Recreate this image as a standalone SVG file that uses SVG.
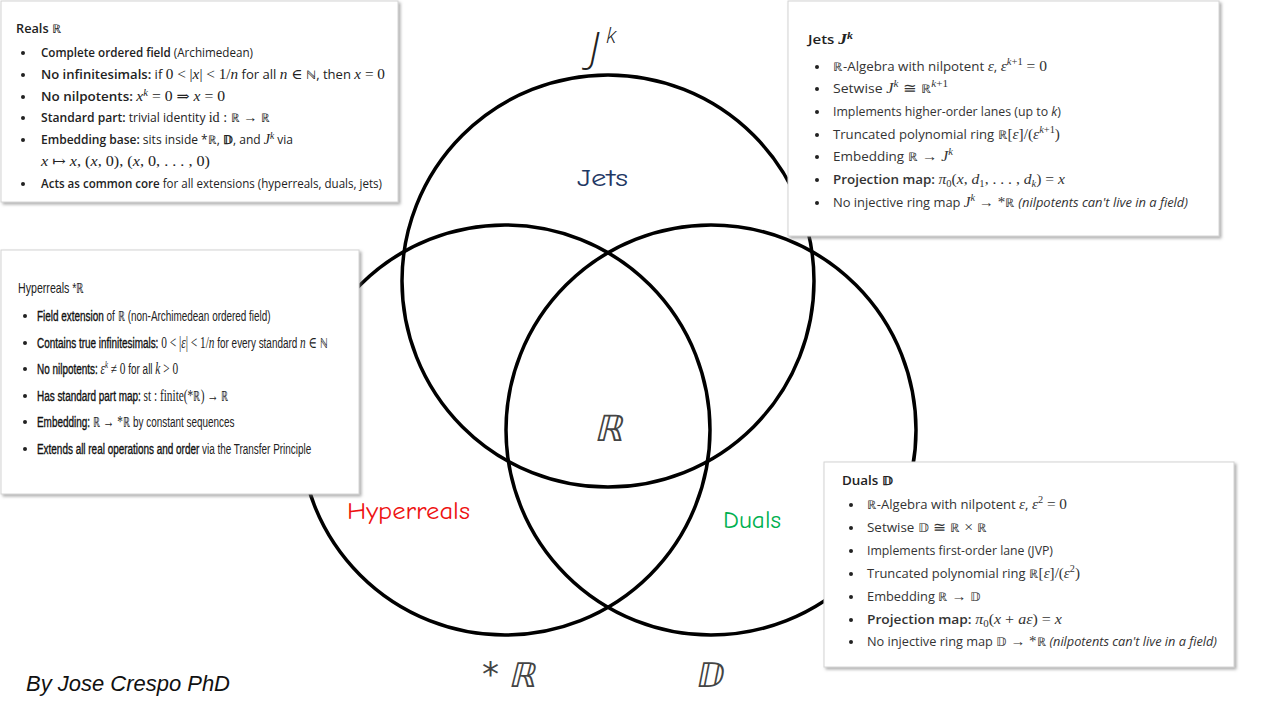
<svg xmlns="http://www.w3.org/2000/svg" width="1280" height="720" viewBox="0 0 1280 720">
<defs>
<filter id="sh" x="-5%" y="-5%" width="115%" height="115%">
<feDropShadow dx="2" dy="2" stdDeviation="1.8" flood-color="#777" flood-opacity="0.6"/>
</filter>
<style>
.set{fill:none;stroke:#000;stroke-width:3.5}
.box{fill:#fff;stroke:#d4d4d4;stroke-width:1;filter:url(#sh)}
.tx{font-family:"Open Sans","Noto Sans",sans-serif;font-size:12px;fill:#333}
.dk{fill:#222}
.hx{font-family:"Liberation Sans",Arial,sans-serif;font-size:14px;fill:#222}
.b{font-weight:600}
.hb{fill:#111;stroke:#111;stroke-width:0.35}
.m{font-family:"Liberation Serif","DejaVu Serif",serif;font-size:14px}
.hm{font-size:16px}
.i{font-style:italic}
.ds{font-family:"DejaVu Sans",sans-serif;font-weight:300}
.sp{font-size:9.5px}
.bul{fill:#222}
.big{font-family:"DejaVu Sans",sans-serif;fill:#444}
.lab{font-family:"Comic Sans MS","Comic Neue","DejaVu Sans",sans-serif;font-size:24px}
</style>
</defs>
<rect width="1280" height="720" fill="#fff"/>

<g id="jets-set"><circle class="set" cx="608" cy="281" r="206"/></g>
<g id="hyperreals-set"><circle class="set" cx="505" cy="430" r="205"/></g>
<g id="duals-set"><circle class="set" cx="711" cy="430" r="205"/></g>

<g id="set-labels">
<text x="589" y="62" font-family="Open Sans,sans-serif" font-style="italic" font-weight="300" font-size="42" fill="#222">J</text>
<text x="606" y="43" font-family="Open Sans,sans-serif" font-style="italic" font-weight="300" font-size="22" fill="#222">k</text>
<text class="lab" x="577" y="186" fill="#1F3864" textLength="51" lengthAdjust="spacingAndGlyphs">Jets</text>
<text class="lab" x="347" y="519" fill="#EE1111" textLength="123" lengthAdjust="spacingAndGlyphs">Hyperreals</text>
<text class="lab" x="723" y="528" fill="#00B050" textLength="58" lengthAdjust="spacingAndGlyphs">Duals</text>
<text class="big" transform="translate(608,441) skewX(-14)" font-size="36" text-anchor="middle">ℝ</text>
<text class="big" x="482" y="686" font-size="34">*</text>
<text class="big" transform="translate(508,687) skewX(-14)" font-size="34">ℝ</text>
<text class="big" x="697" y="687" font-size="34">ⅅ</text>
</g>

<g id="reals-box">
<rect class="box" x="1" y="1" width="397" height="201"/>
<text class="tx b dk" x="16" y="33" font-size="13" textLength="45" lengthAdjust="spacingAndGlyphs">Reals ℝ</text>
<g class="bul"><circle cx="23" cy="53" r="2"/><circle cx="23" cy="75" r="2"/><circle cx="23" cy="97" r="2"/><circle cx="23" cy="118" r="2"/><circle cx="23" cy="140" r="2"/><circle cx="23" cy="184" r="2"/></g>
<text class="tx dk" x="41" y="57" textLength="212" lengthAdjust="spacingAndGlyphs"><tspan class="b">Complete ordered field</tspan> (Archimedean)</text>
<text class="tx dk" x="41" y="79" textLength="344" lengthAdjust="spacingAndGlyphs"><tspan class="b">No infinitesimals:</tspan> if <tspan class="m">0 &lt; |</tspan><tspan class="m i">x</tspan><tspan class="m">| &lt; 1/</tspan><tspan class="m i">n</tspan> for all <tspan class="m i">n</tspan><tspan class="m"> ∈ </tspan><tspan class="ds">ℕ</tspan>, then <tspan class="m i">x</tspan><tspan class="m"> = 0</tspan></text>
<text class="tx dk" x="41" y="101" textLength="184" lengthAdjust="spacingAndGlyphs"><tspan class="b">No nilpotents:</tspan> <tspan class="m i">x</tspan><tspan class="m i sp" dy="-5">k</tspan><tspan class="m" dy="5"> = 0 ⇒ </tspan><tspan class="m i">x</tspan><tspan class="m"> = 0</tspan></text>
<text class="tx dk" x="41" y="122" textLength="229" lengthAdjust="spacingAndGlyphs"><tspan class="b">Standard part:</tspan> trivial identity <tspan class="m">id : </tspan><tspan class="ds">ℝ</tspan><tspan class="m"> → </tspan><tspan class="ds">ℝ</tspan></text>
<text class="tx dk" x="41" y="144" textLength="252" lengthAdjust="spacingAndGlyphs"><tspan class="b">Embedding base:</tspan> sits inside *<tspan class="ds">ℝ</tspan>, <tspan class="b">𝔻</tspan>, and <tspan class="m i">J</tspan><tspan class="m i sp" dy="-5">k</tspan><tspan dy="5"> via</tspan></text>
<text class="m dk" x="41" y="166" textLength="169" lengthAdjust="spacingAndGlyphs"><tspan class="i">x</tspan> ↦ <tspan class="i">x</tspan>,  (<tspan class="i">x</tspan>, 0),  (<tspan class="i">x</tspan>, 0, . . . , 0)</text>
<text class="tx dk" x="41" y="188" textLength="341" lengthAdjust="spacingAndGlyphs"><tspan class="b">Acts as common core</tspan> for all extensions (hyperreals, duals, jets)</text>
</g>

<g id="jets-box">
<rect class="box" x="788" y="1" width="431" height="235"/>
<text class="tx b dk" x="808" y="44" font-size="13" textLength="45" lengthAdjust="spacingAndGlyphs">Jets <tspan class="m i">J</tspan><tspan class="m i sp" dy="-5">k</tspan></text>
<g class="bul"><circle cx="817" cy="67" r="2"/><circle cx="817" cy="89" r="2"/><circle cx="817" cy="112" r="2"/><circle cx="817" cy="135" r="2"/><circle cx="817" cy="157" r="2"/><circle cx="817" cy="180" r="2"/><circle cx="817" cy="203" r="2"/></g>
<text class="tx" x="833" y="71" textLength="214" lengthAdjust="spacingAndGlyphs"><tspan class="ds">ℝ</tspan>-Algebra with nilpotent <tspan class="m i">ε</tspan>, <tspan class="m i">ε</tspan><tspan class="m i sp" dy="-6">k</tspan><tspan class="m sp">+1</tspan><tspan class="m" dy="6"> = 0</tspan></text>
<text class="tx" x="833" y="93" textLength="115" lengthAdjust="spacingAndGlyphs">Setwise <tspan class="m i">J</tspan><tspan class="m i sp" dy="-6">k</tspan><tspan class="m" dy="6"> ≅ </tspan><tspan class="ds">ℝ</tspan><tspan class="m i sp" dy="-6">k</tspan><tspan class="m sp">+1</tspan></text>
<text class="tx" x="833" y="116" textLength="228" lengthAdjust="spacingAndGlyphs">Implements higher-order lanes (up to <tspan class="i">k</tspan>)</text>
<text class="tx" x="833" y="139" textLength="227" lengthAdjust="spacingAndGlyphs">Truncated polynomial ring <tspan class="ds">ℝ</tspan><tspan class="m">[</tspan><tspan class="m i">ε</tspan><tspan class="m">]/(</tspan><tspan class="m i">ε</tspan><tspan class="m i sp" dy="-6">k</tspan><tspan class="m sp">+1</tspan><tspan class="m" dy="6">)</tspan></text>
<text class="tx" x="833" y="161" textLength="120" lengthAdjust="spacingAndGlyphs">Embedding <tspan class="ds">ℝ</tspan><tspan class="m"> → </tspan><tspan class="m i">J</tspan><tspan class="m i sp" dy="-6">k</tspan></text>
<text class="tx" x="833" y="184" textLength="232" lengthAdjust="spacingAndGlyphs"><tspan class="b">Projection map:</tspan> <tspan class="m i">π</tspan><tspan class="m sp" dy="3">0</tspan><tspan class="m" dy="-3">(</tspan><tspan class="m i">x</tspan><tspan class="m">, </tspan><tspan class="m i">d</tspan><tspan class="m sp" dy="3">1</tspan><tspan class="m" dy="-3">, . . . , </tspan><tspan class="m i">d</tspan><tspan class="m i sp" dy="3">k</tspan><tspan class="m" dy="-3">) = </tspan><tspan class="m i">x</tspan></text>
<text class="tx" x="833" y="207" textLength="355" lengthAdjust="spacingAndGlyphs">No injective ring map <tspan class="m i">J</tspan><tspan class="m i sp" dy="-6">k</tspan><tspan class="m" dy="6"> → *</tspan><tspan class="ds">ℝ</tspan> <tspan class="i">(nilpotents can't live in a field)</tspan></text>
</g>

<g id="hyperreals-box">
<rect class="box" x="1" y="250" width="358" height="244"/>
<g class="bul"><circle cx="25" cy="316" r="2"/><circle cx="25" cy="343" r="2"/><circle cx="25" cy="369" r="2"/><circle cx="25" cy="396" r="2"/><circle cx="25" cy="422" r="2"/><circle cx="25" cy="449" r="2"/></g>
<g transform="translate(18,0) scale(0.76,1)">
<text class="hx" x="0" y="293" font-size="15">Hyperreals *<tspan class="ds">ℝ</tspan></text>
</g>
<g transform="translate(37,0) scale(0.71,1)">
<text class="hx" x="0" y="321"><tspan class="hb">Field extension</tspan> of <tspan class="ds">ℝ</tspan> (non-Archimedean ordered field)</text>
<text class="hx" x="0" y="348"><tspan class="hb">Contains true infinitesimals:</tspan> <tspan class="m hm">0 &lt; |</tspan><tspan class="m hm i">ε</tspan><tspan class="m hm">| &lt; 1/</tspan><tspan class="m hm i">n</tspan> for every standard <tspan class="m hm i">n</tspan><tspan class="m hm"> ∈ </tspan><tspan class="ds">ℕ</tspan></text>
<text class="hx" x="0" y="374"><tspan class="hb">No nilpotents:</tspan> <tspan class="m hm i">ε</tspan><tspan class="m i sp" dy="-6">k</tspan><tspan class="m hm" dy="6"> ≠ 0</tspan> for all <tspan class="m hm i">k</tspan><tspan class="m hm"> &gt; 0</tspan></text>
<text class="hx" x="0" y="401"><tspan class="hb">Has standard part map:</tspan> <tspan class="m hm">st : finite(*</tspan><tspan class="ds">ℝ</tspan><tspan class="m hm">) → </tspan><tspan class="ds">ℝ</tspan></text>
<text class="hx" x="0" y="427"><tspan class="hb">Embedding:</tspan> <tspan class="ds">ℝ</tspan><tspan class="m hm"> → *</tspan><tspan class="ds">ℝ</tspan> by constant sequences</text>
<text class="hx" x="0" y="454"><tspan class="hb">Extends all real operations and order</tspan> via the Transfer Principle</text>
</g>
</g>

<g id="duals-box">
<rect class="box" x="824" y="462" width="410" height="205"/>
<text class="tx b dk" x="842" y="485" font-size="13" textLength="51" lengthAdjust="spacingAndGlyphs">Duals 𝔻</text>
<g class="bul"><circle cx="851" cy="505" r="2"/><circle cx="851" cy="528" r="2"/><circle cx="851" cy="551" r="2"/><circle cx="851" cy="574" r="2"/><circle cx="851" cy="597" r="2"/><circle cx="851" cy="620" r="2"/><circle cx="851" cy="642" r="2"/></g>
<text class="tx" x="867" y="509" textLength="200" lengthAdjust="spacingAndGlyphs"><tspan class="ds">ℝ</tspan>-Algebra with nilpotent <tspan class="m i">ε</tspan>, <tspan class="m i">ε</tspan><tspan class="m sp" dy="-6">2</tspan><tspan class="m" dy="6"> = 0</tspan></text>
<text class="tx" x="867" y="532" textLength="120" lengthAdjust="spacingAndGlyphs">Setwise <tspan class="ds">𝔻</tspan><tspan class="m"> ≅ </tspan><tspan class="ds">ℝ</tspan><tspan class="m"> × </tspan><tspan class="ds">ℝ</tspan></text>
<text class="tx" x="867" y="555" textLength="186" lengthAdjust="spacingAndGlyphs">Implements first-order lane (JVP)</text>
<text class="tx" x="867" y="578" textLength="213" lengthAdjust="spacingAndGlyphs">Truncated polynomial ring <tspan class="ds">ℝ</tspan><tspan class="m">[</tspan><tspan class="m i">ε</tspan><tspan class="m">]/(</tspan><tspan class="m i">ε</tspan><tspan class="m sp" dy="-6">2</tspan><tspan class="m" dy="6">)</tspan></text>
<text class="tx" x="867" y="601" textLength="114" lengthAdjust="spacingAndGlyphs">Embedding <tspan class="ds">ℝ</tspan><tspan class="m"> → </tspan><tspan class="ds">𝔻</tspan></text>
<text class="tx" x="867" y="624" textLength="195" lengthAdjust="spacingAndGlyphs"><tspan class="b">Projection map:</tspan> <tspan class="m i">π</tspan><tspan class="m sp" dy="3">0</tspan><tspan class="m" dy="-3">(</tspan><tspan class="m i">x</tspan><tspan class="m"> + </tspan><tspan class="m i">aε</tspan><tspan class="m">) = </tspan><tspan class="m i">x</tspan></text>
<text class="tx" x="867" y="646" textLength="350" lengthAdjust="spacingAndGlyphs">No injective ring map <tspan class="ds">𝔻</tspan><tspan class="m"> → *</tspan><tspan class="ds">ℝ</tspan> <tspan class="i">(nilpotents can't live in a field)</tspan></text>
</g>

<g id="credit">
<text x="26" y="691" font-family="Liberation Sans,Arial,sans-serif" font-style="italic" font-size="21.5" fill="#111" textLength="204" lengthAdjust="spacingAndGlyphs">By Jose Crespo PhD</text>
</g>
</svg>
